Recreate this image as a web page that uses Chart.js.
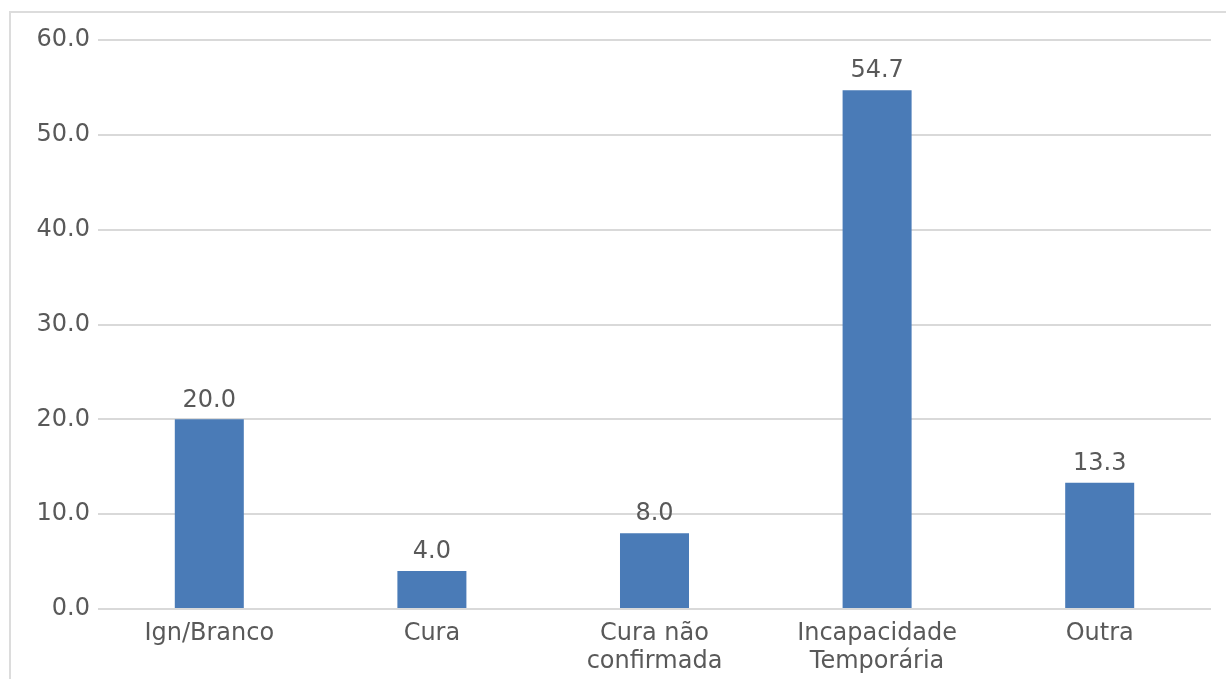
<!DOCTYPE html>
<html>
<head>
<meta charset="utf-8">
<script src="https://cdn.jsdelivr.net/npm/chart.js@4/dist/chart.umd.min.js"></script>
<style>
  html, body { margin: 0; padding: 0; background: #fff; }
  #wrap { position: relative; width: 1226px; height: 679px; }
  #frame {
    position: absolute; left: 9px; top: 11px; right: 0; bottom: 0;
    border-left: 2px solid #dcdcdc; border-top: 2px solid #dcdcdc;
    pointer-events: none;
  }
  #probe { position: absolute; left: -9999px; font: 24px "DejaVu Sans"; }
</style>
</head>
<body>
<div id="wrap">
  <canvas id="chart" width="1226" height="679"></canvas>
  <div id="frame"></div>
</div>
<span id="probe">0.0 Ign</span>
<script>
const categories = ['Ign/Branco', 'Cura', ['Cura não', 'confirmada'], ['Incapacidade', 'Temporária'], 'Outra'];
const values = [20.0, 4.0, 8.0, 54.7, 13.3];
const yTicks = [0, 10, 20, 30, 40, 50, 60];

const textColor = '#595959';
const fontFamily = "'DejaVu Sans'";

Chart.defaults.font.family = fontFamily;

// draws the value above each bar
const valueLabels = {
  id: 'valueLabels',
  afterDatasetsDraw(chart) {
    const ctx = chart.ctx;
    const meta = chart.getDatasetMeta(0);
    ctx.save();
    ctx.font = `24px ${fontFamily}`;
    ctx.fillStyle = textColor;
    ctx.textAlign = 'center';
    ctx.textBaseline = 'bottom';
    meta.data.forEach((bar, i) => {
      ctx.fillText(values[i].toFixed(1), bar.x, bar.y - 7);
    });
    ctx.restore();
  }
};

function createChart() {
  const ctx = document.getElementById('chart').getContext('2d');
  new Chart(ctx, {
    type: 'bar',
    data: {
      labels: categories,
      datasets: [{
        data: values,
        backgroundColor: '#4a7bb7',
        categoryPercentage: 1,
        barPercentage: 0.31
      }]
    },
    options: {
      responsive: false,
      animation: false,
      layout: { padding: { left: 0, right: 15, top: 40, bottom: 0 } },
      plugins: {
        legend: { display: false },
        tooltip: { enabled: false }
      },
      scales: {
        x: {
          grid: { display: false, drawTicks: false },
          border: { display: false },
          ticks: {
            color: textColor,
            font: { family: fontFamily, size: 24 },
            padding: 10,
            maxRotation: 0,
            autoSkip: false
          },
          afterFit: (scale) => { scale.height = 70; }
        },
        y: {
          min: 0,
          max: 60,
          afterBuildTicks: (scale) => { scale.ticks = yTicks.map(v => ({ value: v })); },
          grid: { color: '#d9d9d9', lineWidth: 2, drawTicks: false },
          border: { display: false },
          ticks: {
            color: textColor,
            font: { family: fontFamily, size: 24 },
            padding: 8,
            callback: (value) => Number(value).toFixed(1)
          },
          afterFit: (scale) => { scale.width = 98; }
        }
      }
    },
    plugins: [valueLabels]
  });
}

document.addEventListener('DOMContentLoaded', () => {
  document.fonts.load(`24px ${fontFamily}`).then(createChart, createChart);
});
</script>
</body>
</html>
